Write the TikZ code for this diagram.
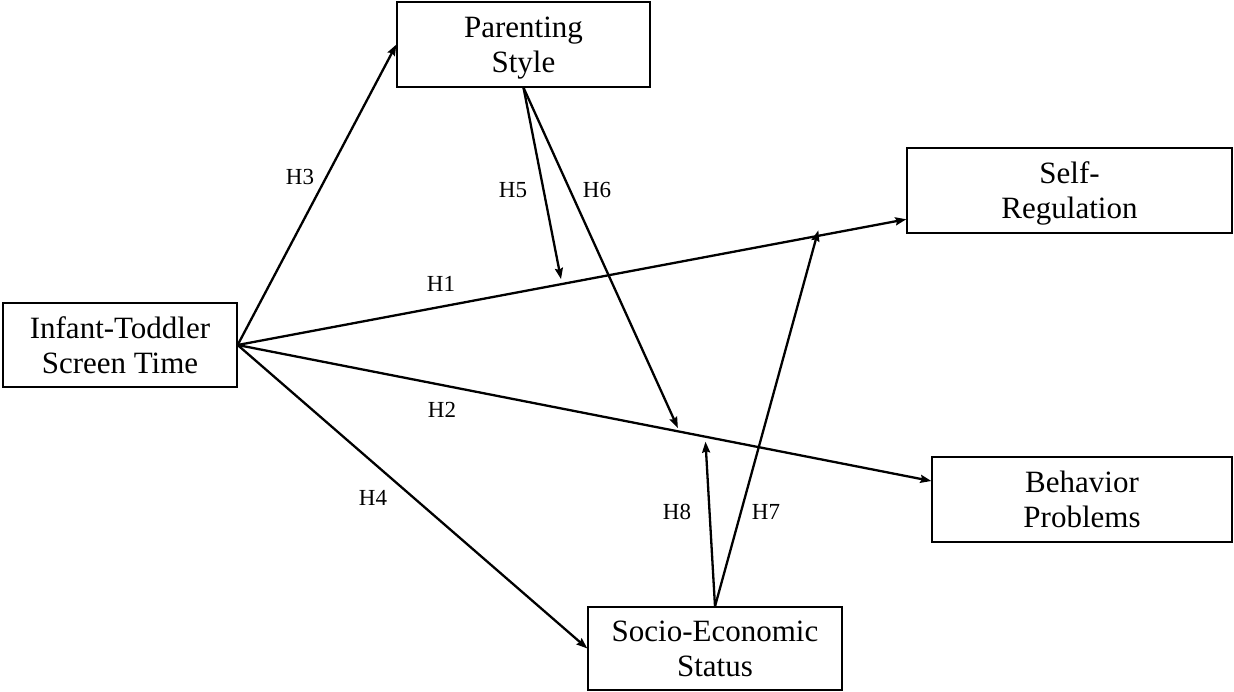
\documentclass[tikz,border=0pt]{standalone}
\usepackage{fontspec}
\setmainfont{Liberation Serif}
\usetikzlibrary{arrows.meta,calc}
\tikzset{
  varbox/.style={draw,line width=1.3pt,inner sep=0pt,align=center,text depth=0pt,
    font=\fontsize{31}{35}\selectfont},
  hyp/.style={line width=2.3pt,-{Stealth[length=11pt,width=8pt,inset=1.5pt]}},
  hlabel/.style={inner sep=0pt,font=\fontsize{23}{25}\selectfont}
}
\begin{document}
\begin{tikzpicture}[x=1pt,y=-1pt]
    \useasboundingbox (0,0) rectangle (1234,692);
    \node[varbox,minimum width=234pt,minimum height=84pt] (Screen) at (120,345) {Infant-Toddler\\Screen Time};
    \node[varbox,minimum width=253pt,minimum height=85pt] (Parent) at (523.5,44.5) {Parenting\\Style};
    \node[varbox,minimum width=325pt,minimum height=85pt] (SelfReg) at (1069.5,190.5) {Self-\\Regulation};
    \node[varbox,minimum width=300pt,minimum height=85pt] (Behav) at (1082,499.5) {Behavior\\Problems};
    \node[varbox,minimum width=254pt,minimum height=83pt] (SES) at (715,648.5) {Socio-Economic\\Status};
    \coordinate (SRin) at (SelfReg.190);
    \coordinate (BPin) at (Behav.173);
    \draw[hyp] (Screen.east) -- (Parent.west);
    \draw[hyp] (Screen.east) -- (SRin);
    \draw[hyp] (Screen.east) -- (BPin);
    \draw[hyp] (Screen.east) -- (SES.west);
    \coordinate (onHA) at ($(Screen.east)!0.485!(SRin)$);
    \coordinate (onHB) at ($(Screen.east)!0.637!(BPin)$);
    \coordinate (onHC) at ($(Screen.east)!0.866!(SRin)$);
    \coordinate (onHD) at ($(Screen.east)!0.674!(BPin)$);
    \draw[hyp,shorten >=5pt] (Parent.south) -- (onHA);
    \draw[hyp,shorten >=4pt] (Parent.south) -- (onHB);
    \draw[hyp,shorten >=-6pt] (SES.north) -- (onHC);
    \draw[hyp,shorten >=5pt] (SES.north) -- (onHD);
    \node[hlabel] (lH3) at (300,177) {H3};
    \node[hlabel] (lH1) at (441,284) {H1};
    \node[hlabel] (lH2) at (442,410) {H2};
    \node[hlabel] (lH4) at (373,498) {H4};
    \node[hlabel] (lH5) at (513,190) {H5};
    \node[hlabel] (lH6) at (597,190) {H6};
    \node[hlabel] (lH8) at (677,512) {H8};
    \node[hlabel] (lH7) at (766,512) {H7};
\end{tikzpicture}
\end{document}
